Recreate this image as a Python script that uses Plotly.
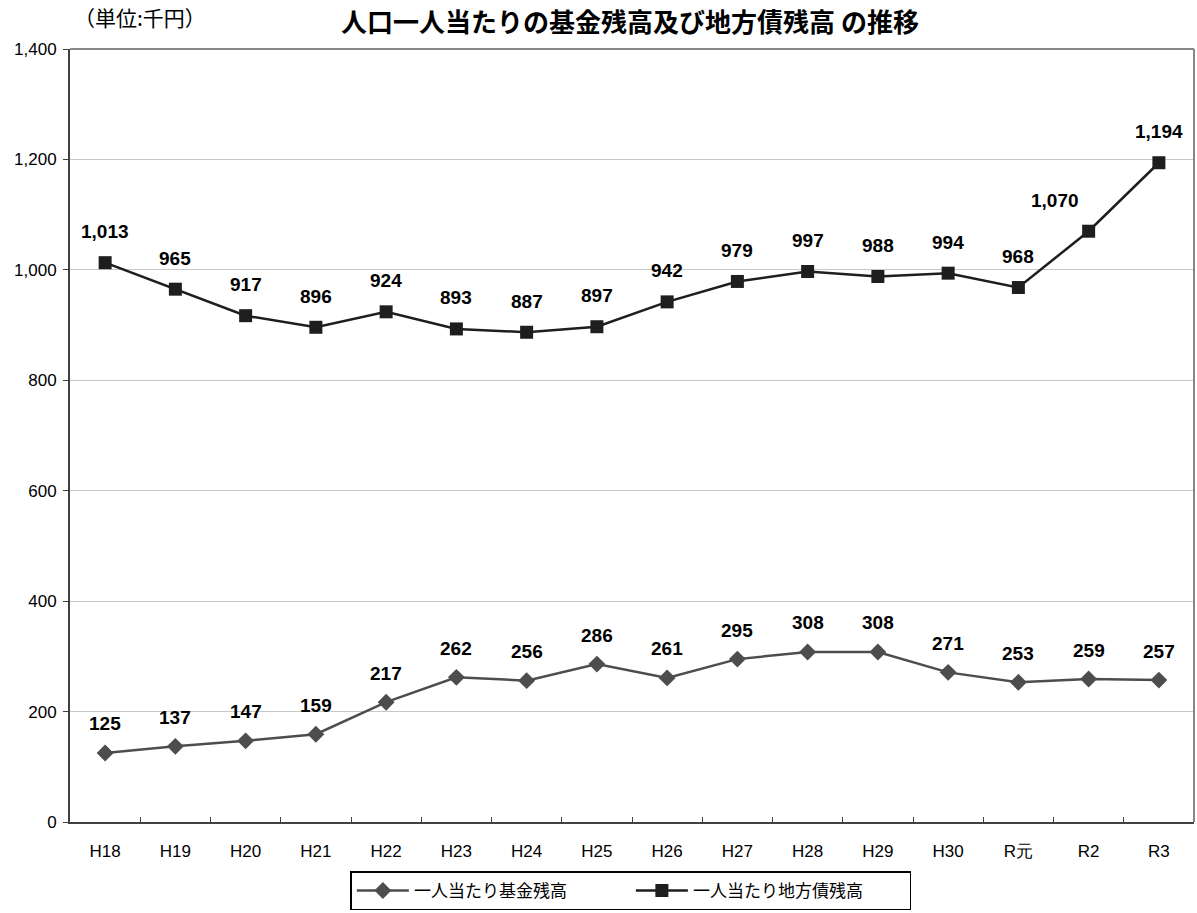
import plotly.graph_objects as go

categories = ["H18", "H19", "H20", "H21", "H22", "H23", "H24", "H25", "H26", "H27", "H28", "H29", "H30", "R元", "R2", "R3"]
fund = [125, 137, 147, 159, 217, 262, 256, 286, 261, 295, 308, 308, 271, 253, 259, 257]
debt = [1013, 965, 917, 896, 924, 893, 887, 897, 942, 979, 997, 988, 994, 968, 1070, 1194]
y_ticks = [0, 200, 400, 600, 800, 1000, 1200, 1400]

JP = "Noto Sans CJK JP"
NUM = "Liberation Sans Narrow, Liberation Sans"

fig = go.Figure()
fig.add_trace(go.Scatter(
    x=categories, y=fund, name="一人当たり基金残高", mode="lines+markers",
    line=dict(color="#4d4d4d", width=2.5),
    marker=dict(symbol="diamond", size=13, color="#4d4d4d"),
))
fig.add_trace(go.Scatter(
    x=categories, y=debt, name="一人当たり地方債残高", mode="lines+markers",
    line=dict(color="#1e1e1e", width=2.5),
    marker=dict(symbol="square", size=13, color="#1e1e1e"),
))

for c, v in zip(categories, fund):
    fig.add_annotation(x=c, y=v, text=f"{v:,}", showarrow=False, yshift=29,
                       font=dict(family=NUM, size=19, color="black", weight="bold"))
for c, v in zip(categories, debt):
    xs = -34 if c == "R2" else 0
    fig.add_annotation(x=c, y=v, text=f"{v:,}", showarrow=False, yshift=31, xshift=xs,
                       font=dict(family=NUM, size=19, color="black", weight="bold"))

fig.add_annotation(xref="paper", yref="paper", x=0.498, y=1, yshift=8, xanchor="center", yanchor="bottom",
                   text="<b>人口一人当たりの基金残高及び地方債残高 の推移</b>", showarrow=False,
                   font=dict(family=JP, size=26, color="black"))
fig.add_annotation(xref="paper", yref="paper", x=0, xshift=2, y=1, yshift=15, xanchor="left", yanchor="bottom",
                   text="（単位:千円）", showarrow=False,
                   font=dict(family=JP, size=21, color="black"))

fig.update_layout(
    width=1197, height=913,
    margin=dict(l=70, r=3, t=49, b=91, autoexpand=False),
    plot_bgcolor="white", paper_bgcolor="white",
    showlegend=True,
    legend=dict(orientation="h", x=0.499, xanchor="center", y=-0.064, yanchor="top",
                bordercolor="black", borderwidth=1.5, font=dict(family=JP, size=17, color="black"),
                itemwidth=52, tracegroupgap=0, entrywidth=212, entrywidthmode="pixels"),
    font=dict(family=NUM, size=16, color="black"),
)
fig.update_xaxes(
    type="category", range=[-0.5, 15.5], autorange=False, automargin=False,
    showline=True, linecolor="#404040", linewidth=2, mirror=False,
    ticks="inside", ticklen=5, tickcolor="#404040", tickson="boundaries",
    ticklabelstandoff=13,
    showgrid=False, tickfont=dict(family=NUM, size=17, color="black"),
)
fig.update_yaxes(
    range=[0, 1400], autorange=False, automargin=False, tickvals=y_ticks, tickformat=",d",
    showline=True, linecolor="#404040", linewidth=2,
    ticks="outside", ticklen=5, tickcolor="#404040", ticklabelstandoff=3,
    showgrid=True, gridcolor="#c8c8c8", gridwidth=1, zeroline=False,
    tickfont=dict(family=NUM, size=17, color="black"),
)
fig.add_shape(type="line", xref="paper", yref="paper", x0=0, x1=1, y0=1, y1=1, line=dict(color="#888888", width=2))
fig.add_shape(type="line", xref="paper", yref="paper", x0=1, x1=1, y0=0, y1=1, line=dict(color="#888888", width=2))

fig.write_html("out.html", config={"displayModeBar": False},
               post_script="document.body.style.margin='0';document.body.style.overflow='hidden';")
